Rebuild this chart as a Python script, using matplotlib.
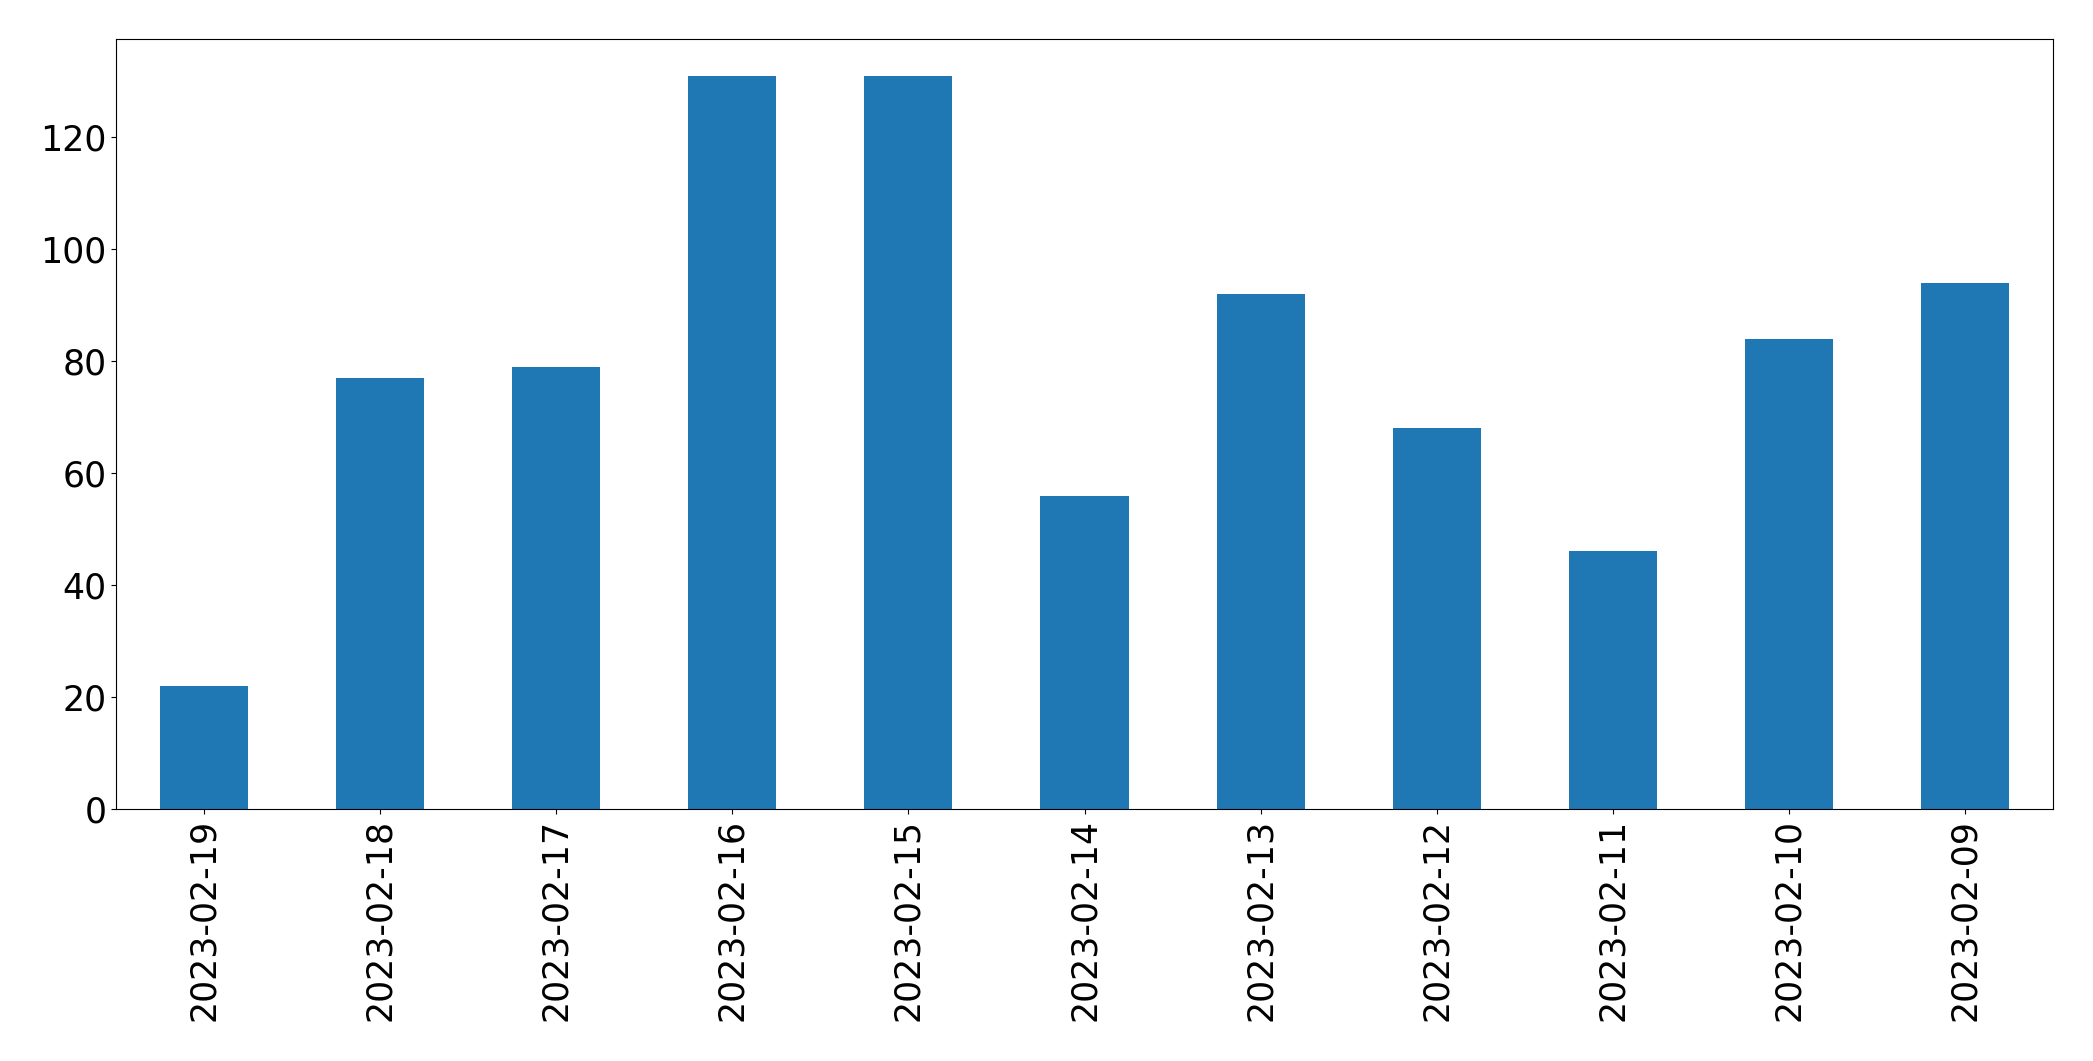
import numpy as np
import pandas as pd
import matplotlib
matplotlib.use("Agg")
import matplotlib.pyplot as plt

dates = ["2023-02-19", "2023-02-18", "2023-02-17", "2023-02-16", "2023-02-15", "2023-02-14",
         "2023-02-13", "2023-02-12", "2023-02-11", "2023-02-10", "2023-02-09"]
counts = [22, 77, 79, 131, 131, 56, 92, 68, 46, 84, 94]

s = pd.Series(counts, index=dates)

fig = plt.figure(figsize=(20.93, 10.61), dpi=100)
ax = fig.add_axes([116/2093, 1-809/1061, (2053-116)/2093, (809-39)/1061])
s.plot(kind="bar", ax=ax, color="#1f77b4")
ax.tick_params(labelsize=25)
fig.savefig("out.png", dpi=100)
